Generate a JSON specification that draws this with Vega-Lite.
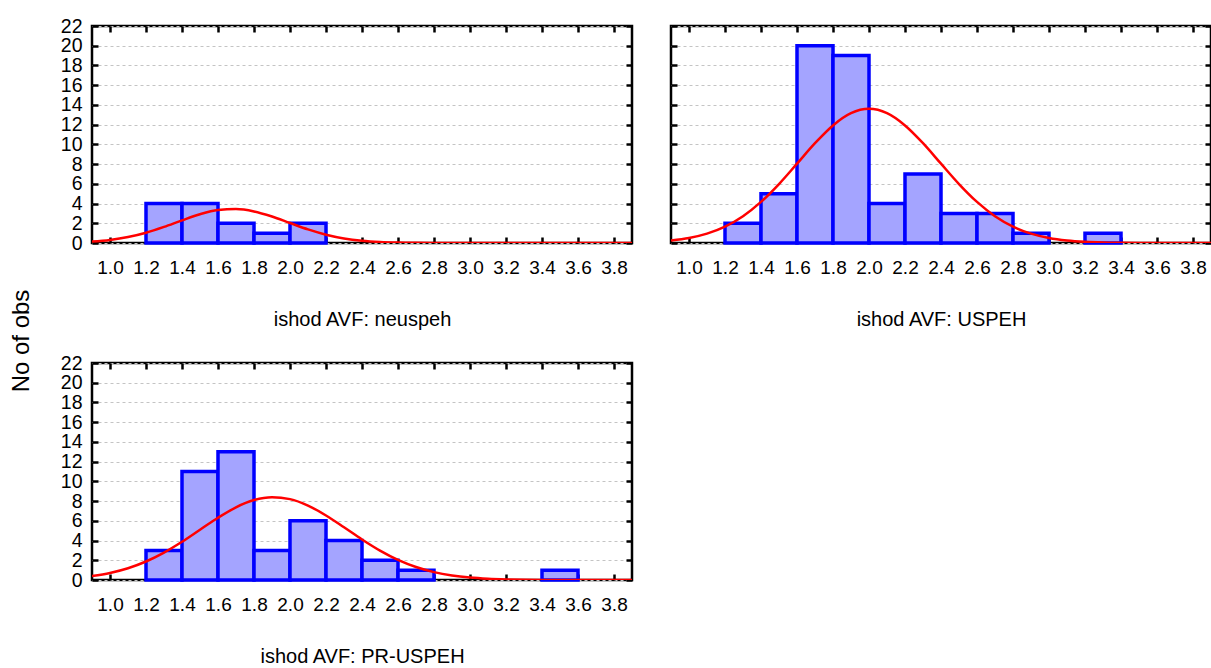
{
  "$schema": "https://vega.github.io/schema/vega-lite/v6.json",
  "padding": {"left": 10, "top": 14, "right": 0, "bottom": 0},
  "background": "white",
  "title": {"text": "No of obs", "orient": "left", "anchor": "middle", "fontSize": 24, "font": "Liberation Sans", "fontWeight": "normal", "color": "black", "offset": 25},
  "config": {
    "view": {"stroke": "black", "strokeWidth": 2.5},
    "axis": {"labelFont": "Liberation Sans", "titleFont": "Liberation Sans", "labelColor": "black", "titleColor": "black", "titleFontWeight": "normal", "tickColor": "black", "tickWidth": 2.5, "labelOverlap": false, "labelFlush": false}
  },
  "datasets": {
    "bars": [
      {"g": "neuspeh", "x0": 1.2, "x1": 1.4, "n": 4},
      {"g": "neuspeh", "x0": 1.4, "x1": 1.6, "n": 4},
      {"g": "neuspeh", "x0": 1.6, "x1": 1.8, "n": 2},
      {"g": "neuspeh", "x0": 1.8, "x1": 2.0, "n": 1},
      {"g": "neuspeh", "x0": 2.0, "x1": 2.2, "n": 2},
      {"g": "USPEH", "x0": 1.2, "x1": 1.4, "n": 2},
      {"g": "USPEH", "x0": 1.4, "x1": 1.6, "n": 5},
      {"g": "USPEH", "x0": 1.6, "x1": 1.8, "n": 20},
      {"g": "USPEH", "x0": 1.8, "x1": 2.0, "n": 19},
      {"g": "USPEH", "x0": 2.0, "x1": 2.2, "n": 4},
      {"g": "USPEH", "x0": 2.2, "x1": 2.4, "n": 7},
      {"g": "USPEH", "x0": 2.4, "x1": 2.6, "n": 3},
      {"g": "USPEH", "x0": 2.6, "x1": 2.8, "n": 3},
      {"g": "USPEH", "x0": 2.8, "x1": 3.0, "n": 1},
      {"g": "USPEH", "x0": 3.2, "x1": 3.4, "n": 1},
      {"g": "PR-USPEH", "x0": 1.2, "x1": 1.4, "n": 3},
      {"g": "PR-USPEH", "x0": 1.4, "x1": 1.6, "n": 11},
      {"g": "PR-USPEH", "x0": 1.6, "x1": 1.8, "n": 13},
      {"g": "PR-USPEH", "x0": 1.8, "x1": 2.0, "n": 3},
      {"g": "PR-USPEH", "x0": 2.0, "x1": 2.2, "n": 6},
      {"g": "PR-USPEH", "x0": 2.2, "x1": 2.4, "n": 4},
      {"g": "PR-USPEH", "x0": 2.4, "x1": 2.6, "n": 2},
      {"g": "PR-USPEH", "x0": 2.6, "x1": 2.8, "n": 1},
      {"g": "PR-USPEH", "x0": 3.4, "x1": 3.6, "n": 1}
    ],
    "curve": [
      {"g": "neuspeh", "x": 0.9, "y": 0.146}, {"g": "neuspeh", "x": 1.0, "y": 0.311}, {"g": "neuspeh", "x": 1.1, "y": 0.600}, {"g": "neuspeh", "x": 1.2, "y": 1.040}, {"g": "neuspeh", "x": 1.3, "y": 1.628}, {"g": "neuspeh", "x": 1.4, "y": 2.294}, {"g": "neuspeh", "x": 1.5, "y": 2.915}, {"g": "neuspeh", "x": 1.6, "y": 3.337}, {"g": "neuspeh", "x": 1.7, "y": 3.443}, {"g": "neuspeh", "x": 1.8, "y": 3.201}, {"g": "neuspeh", "x": 1.9, "y": 2.682}, {"g": "neuspeh", "x": 2.0, "y": 2.025}, {"g": "neuspeh", "x": 2.1, "y": 1.378}, {"g": "neuspeh", "x": 2.2, "y": 0.845}, {"g": "neuspeh", "x": 2.3, "y": 0.467}, {"g": "neuspeh", "x": 2.4, "y": 0.233}, {"g": "neuspeh", "x": 2.5, "y": 0.104}, {"g": "neuspeh", "x": 2.6, "y": 0.042}, {"g": "neuspeh", "x": 2.7, "y": 0.015}, {"g": "neuspeh", "x": 2.8, "y": 0.005}, {"g": "neuspeh", "x": 2.9, "y": 0.001}, {"g": "neuspeh", "x": 3.0, "y": 0}, {"g": "neuspeh", "x": 3.2, "y": 0}, {"g": "neuspeh", "x": 3.4, "y": 0}, {"g": "neuspeh", "x": 3.6, "y": 0}, {"g": "neuspeh", "x": 3.9, "y": 0},
      {"g": "USPEH", "x": 0.9, "y": 0.255}, {"g": "USPEH", "x": 1.0, "y": 0.508}, {"g": "USPEH", "x": 1.1, "y": 0.948}, {"g": "USPEH", "x": 1.2, "y": 1.659}, {"g": "USPEH", "x": 1.3, "y": 2.716}, {"g": "USPEH", "x": 1.4, "y": 4.166}, {"g": "USPEH", "x": 1.5, "y": 5.979}, {"g": "USPEH", "x": 1.6, "y": 8.04}, {"g": "USPEH", "x": 1.7, "y": 10.12}, {"g": "USPEH", "x": 1.8, "y": 11.92}, {"g": "USPEH", "x": 1.9, "y": 13.16}, {"g": "USPEH", "x": 2.0, "y": 13.6}, {"g": "USPEH", "x": 2.1, "y": 13.16}, {"g": "USPEH", "x": 2.2, "y": 11.92}, {"g": "USPEH", "x": 2.3, "y": 10.12}, {"g": "USPEH", "x": 2.4, "y": 8.04}, {"g": "USPEH", "x": 2.5, "y": 5.979}, {"g": "USPEH", "x": 2.6, "y": 4.166}, {"g": "USPEH", "x": 2.7, "y": 2.716}, {"g": "USPEH", "x": 2.8, "y": 1.659}, {"g": "USPEH", "x": 2.9, "y": 0.948}, {"g": "USPEH", "x": 3.0, "y": 0.508}, {"g": "USPEH", "x": 3.1, "y": 0.255}, {"g": "USPEH", "x": 3.2, "y": 0.120}, {"g": "USPEH", "x": 3.3, "y": 0.052}, {"g": "USPEH", "x": 3.4, "y": 0.022}, {"g": "USPEH", "x": 3.5, "y": 0.008}, {"g": "USPEH", "x": 3.6, "y": 0.003}, {"g": "USPEH", "x": 3.7, "y": 0.001}, {"g": "USPEH", "x": 3.9, "y": 0},
      {"g": "PR-USPEH", "x": 0.9, "y": 0.404}, {"g": "PR-USPEH", "x": 1.0, "y": 0.716}, {"g": "PR-USPEH", "x": 1.1, "y": 1.193}, {"g": "PR-USPEH", "x": 1.2, "y": 1.874}, {"g": "PR-USPEH", "x": 1.3, "y": 2.776}, {"g": "PR-USPEH", "x": 1.4, "y": 3.874}, {"g": "PR-USPEH", "x": 1.5, "y": 5.095}, {"g": "PR-USPEH", "x": 1.6, "y": 6.311}, {"g": "PR-USPEH", "x": 1.7, "y": 7.368}, {"g": "PR-USPEH", "x": 1.8, "y": 8.103}, {"g": "PR-USPEH", "x": 1.9, "y": 8.397}, {"g": "PR-USPEH", "x": 2.0, "y": 8.2}, {"g": "PR-USPEH", "x": 2.1, "y": 7.546}, {"g": "PR-USPEH", "x": 2.2, "y": 6.542}, {"g": "PR-USPEH", "x": 2.3, "y": 5.343}, {"g": "PR-USPEH", "x": 2.4, "y": 4.113}, {"g": "PR-USPEH", "x": 2.5, "y": 2.984}, {"g": "PR-USPEH", "x": 2.6, "y": 2.039}, {"g": "PR-USPEH", "x": 2.7, "y": 1.313}, {"g": "PR-USPEH", "x": 2.8, "y": 0.796}, {"g": "PR-USPEH", "x": 2.9, "y": 0.455}, {"g": "PR-USPEH", "x": 3.0, "y": 0.245}, {"g": "PR-USPEH", "x": 3.1, "y": 0.124}, {"g": "PR-USPEH", "x": 3.2, "y": 0.06}, {"g": "PR-USPEH", "x": 3.3, "y": 0.027}, {"g": "PR-USPEH", "x": 3.4, "y": 0.011}, {"g": "PR-USPEH", "x": 3.5, "y": 0.004}, {"g": "PR-USPEH", "x": 3.6, "y": 0.002}, {"g": "PR-USPEH", "x": 3.7, "y": 0.001}, {"g": "PR-USPEH", "x": 3.9, "y": 0}
    ]
  },
  "spacing": 20,
  "vconcat": [
    {
      "spacing": 33,
      "hconcat": [
        {
          "width": 540, "height": 217,
          "resolve": {"axis": {"x": "independent", "y": "independent"}},
          "layer": [
            {
              "data": {"name": "bars"},
              "transform": [{"filter": {"field": "g", "equal": "neuspeh"}}],
              "mark": {"type": "bar", "fill": "#a4a4ff", "stroke": "#0000ff", "strokeWidth": 3.5},
              "encoding": {
                "x": {"field": "x0", "type": "quantitative", "scale": {"domain": [0.9, 3.9], "nice": false, "zero": false},
                  "axis": {"orient": "bottom", "values": [1.0, 1.2, 1.4, 1.6, 1.8, 2.0, 2.2, 2.4, 2.6, 2.8, 3.0, 3.2, 3.4, 3.6, 3.8], "format": ".1f", "tickSize": -6, "domain": false, "grid": false, "labelFontSize": 19, "labelPadding": 21, "title": "ishod AVF: neuspeh", "titleFontSize": 20, "titlePadding": 32}},
                "x2": {"field": "x1"},
                "y": {"field": "n", "type": "quantitative", "scale": {"domain": [0, 22], "nice": false},
                  "axis": {"orient": "left", "values": [0, 2, 4, 6, 8, 10, 12, 14, 16, 18, 20, 22], "tickSize": -6, "domain": false, "grid": true, "gridDash": [3, 3], "gridColor": "#c4c4c4", "labelFontSize": 19.5, "labelPadding": 16, "title": null}},
                "y2": {"datum": 0}
              }
            },
            {
              "data": {"name": "curve"},
              "transform": [{"filter": {"field": "g", "equal": "neuspeh"}}],
              "mark": {"type": "line", "color": "#ff0000", "strokeWidth": 2.5, "interpolate": "monotone", "clip": true},
              "encoding": {
                "x": {"field": "x", "type": "quantitative", "axis": {"orient": "top", "values": [1.0, 1.2, 1.4, 1.6, 1.8, 2.0, 2.2, 2.4, 2.6, 2.8, 3.0, 3.2, 3.4, 3.6, 3.8], "tickSize": -6, "labels": false, "domain": false, "grid": false, "title": null}},
                "y": {"field": "y", "type": "quantitative", "axis": {"orient": "right", "values": [0, 2, 4, 6, 8, 10, 12, 14, 16, 18, 20, 22], "tickSize": -6, "labels": false, "domain": false, "grid": false, "title": null}}
              }
            }
          ]
        },
        {
          "width": 540, "height": 217,
          "resolve": {"axis": {"x": "independent", "y": "independent"}},
          "layer": [
            {
              "data": {"name": "bars"},
              "transform": [{"filter": {"field": "g", "equal": "USPEH"}}],
              "mark": {"type": "bar", "fill": "#a4a4ff", "stroke": "#0000ff", "strokeWidth": 3.5},
              "encoding": {
                "x": {"field": "x0", "type": "quantitative", "scale": {"domain": [0.9, 3.9], "nice": false, "zero": false},
                  "axis": {"orient": "bottom", "values": [1.0, 1.2, 1.4, 1.6, 1.8, 2.0, 2.2, 2.4, 2.6, 2.8, 3.0, 3.2, 3.4, 3.6, 3.8], "format": ".1f", "tickSize": -6, "domain": false, "grid": false, "labelFontSize": 19, "labelPadding": 21, "title": "ishod AVF: USPEH", "titleFontSize": 20, "titlePadding": 32}},
                "x2": {"field": "x1"},
                "y": {"field": "n", "type": "quantitative", "scale": {"domain": [0, 22], "nice": false},
                  "axis": {"orient": "left", "values": [0, 2, 4, 6, 8, 10, 12, 14, 16, 18, 20, 22], "tickSize": -6, "domain": false, "grid": true, "gridDash": [3, 3], "gridColor": "#c4c4c4", "labels": false, "title": null}},
                "y2": {"datum": 0}
              }
            },
            {
              "data": {"name": "curve"},
              "transform": [{"filter": {"field": "g", "equal": "USPEH"}}],
              "mark": {"type": "line", "color": "#ff0000", "strokeWidth": 2.5, "interpolate": "monotone", "clip": true},
              "encoding": {
                "x": {"field": "x", "type": "quantitative", "axis": {"orient": "top", "values": [1.0, 1.2, 1.4, 1.6, 1.8, 2.0, 2.2, 2.4, 2.6, 2.8, 3.0, 3.2, 3.4, 3.6, 3.8], "tickSize": -6, "labels": false, "domain": false, "grid": false, "title": null}},
                "y": {"field": "y", "type": "quantitative", "axis": {"orient": "right", "values": [0, 2, 4, 6, 8, 10, 12, 14, 16, 18, 20, 22], "tickSize": -6, "labels": false, "domain": false, "grid": false, "title": null}}
              }
            }
          ]
        }
      ]
    },
    {
      "width": 540, "height": 217,
      "resolve": {"axis": {"x": "independent", "y": "independent"}},
      "layer": [
        {
          "data": {"name": "bars"},
          "transform": [{"filter": {"field": "g", "equal": "PR-USPEH"}}],
          "mark": {"type": "bar", "fill": "#a4a4ff", "stroke": "#0000ff", "strokeWidth": 3.5},
          "encoding": {
            "x": {"field": "x0", "type": "quantitative", "scale": {"domain": [0.9, 3.9], "nice": false, "zero": false},
              "axis": {"orient": "bottom", "values": [1.0, 1.2, 1.4, 1.6, 1.8, 2.0, 2.2, 2.4, 2.6, 2.8, 3.0, 3.2, 3.4, 3.6, 3.8], "format": ".1f", "tickSize": -6, "domain": false, "grid": false, "labelFontSize": 19, "labelPadding": 21, "title": "ishod AVF: PR-USPEH", "titleFontSize": 20, "titlePadding": 32}},
            "x2": {"field": "x1"},
            "y": {"field": "n", "type": "quantitative", "scale": {"domain": [0, 22], "nice": false},
              "axis": {"orient": "left", "values": [0, 2, 4, 6, 8, 10, 12, 14, 16, 18, 20, 22], "tickSize": -6, "domain": false, "grid": true, "gridDash": [3, 3], "gridColor": "#c4c4c4", "labelFontSize": 19.5, "labelPadding": 16, "title": null}},
            "y2": {"datum": 0}
          }
        },
        {
          "data": {"name": "curve"},
          "transform": [{"filter": {"field": "g", "equal": "PR-USPEH"}}],
          "mark": {"type": "line", "color": "#ff0000", "strokeWidth": 2.5, "interpolate": "monotone", "clip": true},
          "encoding": {
            "x": {"field": "x", "type": "quantitative", "axis": {"orient": "top", "values": [1.0, 1.2, 1.4, 1.6, 1.8, 2.0, 2.2, 2.4, 2.6, 2.8, 3.0, 3.2, 3.4, 3.6, 3.8], "tickSize": -6, "labels": false, "domain": false, "grid": false, "title": null}},
            "y": {"field": "y", "type": "quantitative", "axis": {"orient": "right", "values": [0, 2, 4, 6, 8, 10, 12, 14, 16, 18, 20, 22], "tickSize": -6, "labels": false, "domain": false, "grid": false, "title": null}}
          }
        }
      ]
    }
  ]
}
